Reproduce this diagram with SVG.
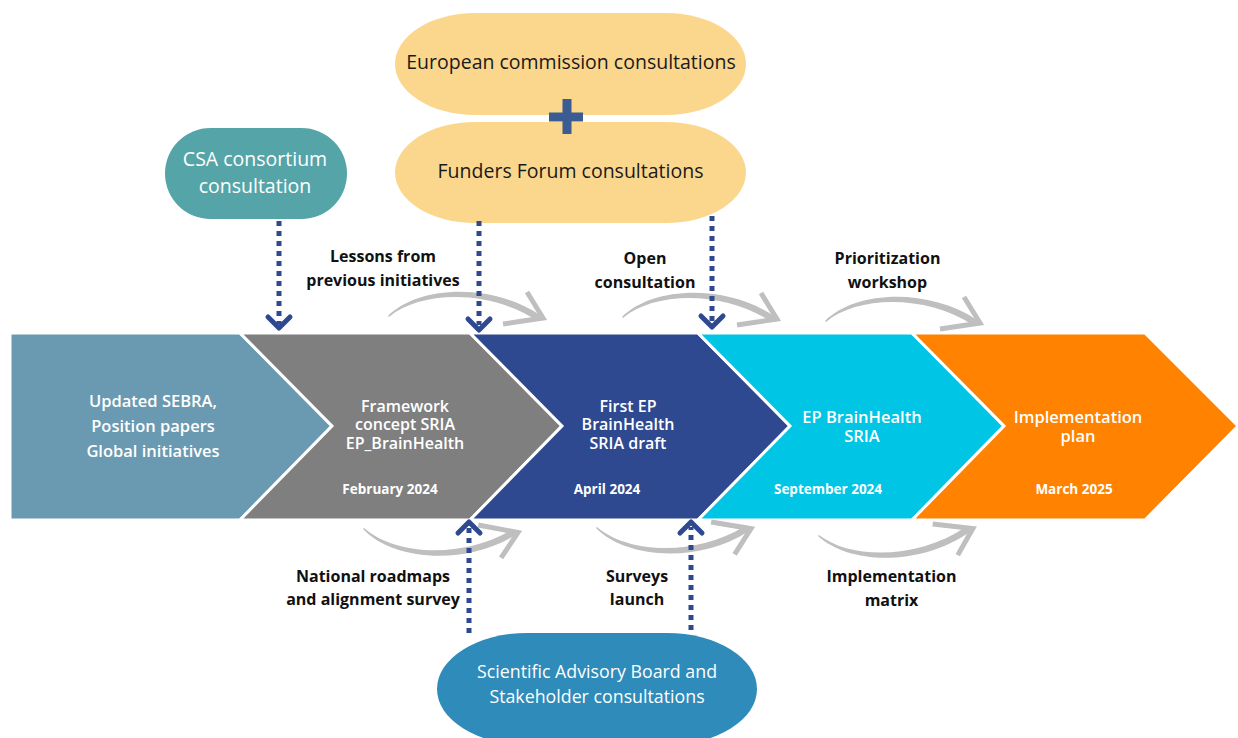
<svg xmlns="http://www.w3.org/2000/svg" xmlns:xlink="http://www.w3.org/1999/xlink" width="1238" height="738" viewBox="0 0 1238 738">
  <style>
    .stage { stroke: #FFFFFF; stroke-width: 3; stroke-linejoin: miter; }
    .stxt { font-family: "Open Sans", "Noto Sans", sans-serif; font-weight: 600; font-size: 16.5px; fill: #FFFFFF; text-anchor: middle; }
    .tight { font-size: 16px; }
    .date { font-family: "Open Sans", "Noto Sans", sans-serif; font-weight: 700; font-size: 13.5px; fill: #FFFFFF; text-anchor: middle; }
    .lbl { font-family: "Open Sans", "Noto Sans", sans-serif; font-weight: 700; font-size: 16px; fill: #111111; text-anchor: middle; }
    .btxt { font-family: "Open Sans", "Noto Sans", sans-serif; font-weight: 400; font-size: 19.5px; text-anchor: middle; }
    .small { font-size: 17.8px; }
    .dots { fill: none; stroke: #2E4990; stroke-width: 5; stroke-dasharray: 5 5; }
    .head { fill: none; stroke: #2E4990; stroke-width: 5; stroke-linecap: round; stroke-linejoin: round; }
  </style>
  <defs>
    <!-- tapered grey sweep arrow with open chevron tip -->
    <g id="sweep">
      <path d="M0,0 C30,-30 102,-34 152,-1 L148,4 C100,-27 32,-25 1,1 Z" fill="#BFBFBF"/>
      <polyline points="139,-24 155,2 115,8" fill="none" stroke="#BFBFBF" stroke-width="5"/>
    </g>
  </defs>

  <rect width="1238" height="738" fill="#FFFFFF"/>

  <!-- timeline chevrons -->
  <g id="stage-inputs">
    <polygon class="stage" fill="#6A9AB1" points="10,333 240,333 332,426 240,520 10,520"/>
    <text class="stxt" x="153" y="407">Updated SEBRA,</text>
    <text class="stxt" x="153" y="432">Position papers</text>
    <text class="stxt" x="153" y="457">Global initiatives</text>
  </g>
  <g id="stage-framework">
    <polygon class="stage" fill="#7F7F7F" points="240,333 470,333 562,426 470,520 240,520 332,426"/>
    <text class="stxt tight" x="405" y="411.5">Framework</text>
    <text class="stxt tight" x="405" y="430">concept SRIA</text>
    <text class="stxt tight" x="405" y="448.5">EP_BrainHealth</text>
    <text class="date" x="390" y="494">February 2024</text>
  </g>
  <g id="stage-draft">
    <polygon class="stage" fill="#2E4990" points="470,333 698,333 790,426 698,520 470,520 562,426"/>
    <text class="stxt tight" x="628" y="411.5">First EP</text>
    <text class="stxt tight" x="628" y="430">BrainHealth</text>
    <text class="stxt tight" x="628" y="448.5">SRIA draft</text>
    <text class="date" x="607" y="494">April 2024</text>
  </g>
  <g id="stage-sria">
    <polygon class="stage" fill="#00C5E5" points="698,333 912,333 1004,426 912,520 698,520 790,426"/>
    <text class="stxt" x="862" y="423">EP BrainHealth</text>
    <text class="stxt" x="862" y="441.5">SRIA</text>
    <text class="date" x="828" y="494">September 2024</text>
  </g>
  <g id="stage-plan">
    <polygon class="stage" fill="#FF8200" points="912,333 1145,333 1238,426 1145,520 912,520 1004,426"/>
    <text class="stxt" x="1078" y="423">Implementation</text>
    <text class="stxt" x="1078" y="441.5">plan</text>
    <text class="date" x="1074" y="494">March 2025</text>
  </g>

  <!-- consultation bubbles -->
  <g id="csa">
    <rect x="165" y="128" width="182" height="91" rx="45.5" ry="45.5" fill="#55A5A8"/>
    <text class="btxt" x="255" y="165.5" fill="#FFFFFF">CSA consortium</text>
    <text class="btxt" x="255" y="192.5" fill="#FFFFFF">consultation</text>
  </g>
  <g id="ec">
    <rect x="395" y="13" width="351" height="102" rx="80" ry="51" fill="#FBD78E"/>
    <text class="btxt" x="571" y="69" fill="#1A1A1A">European commission consultations</text>
  </g>
  <g id="funders">
    <rect x="395" y="122" width="351" height="101" rx="80" ry="50.5" fill="#FBD78E"/>
    <text class="btxt" x="570.5" y="178" fill="#1A1A1A">Funders Forum consultations</text>
  </g>
  <g id="plus">
    <rect x="549" y="112.5" width="34" height="9" fill="#3A5C92"/>
    <rect x="562.5" y="99" width="9" height="35" fill="#3A5C92"/>
  </g>
  <g id="sab">
    <rect x="437" y="633" width="320" height="112" rx="90" ry="56" fill="#2E8BBA"/>
    <text class="btxt small" x="597" y="678" fill="#FFFFFF">Scientific Advisory Board and</text>
    <text class="btxt small" x="597" y="702.5" fill="#FFFFFF">Stakeholder consultations</text>
  </g>

  <!-- activity labels -->
  <g id="labels">
    <text class="lbl" x="383" y="261.5">Lessons from</text>
    <text class="lbl" x="383" y="285.5">previous initiatives</text>
    <text class="lbl" x="645" y="264">Open</text>
    <text class="lbl" x="645" y="288">consultation</text>
    <text class="lbl" x="887.5" y="263.5">Prioritization</text>
    <text class="lbl" x="887.5" y="287.5">workshop</text>
    <text class="lbl" x="373" y="581.5">National roadmaps</text>
    <text class="lbl" x="373" y="605">and alignment survey</text>
    <text class="lbl" x="637" y="581.5">Surveys</text>
    <text class="lbl" x="637" y="605">launch</text>
    <text class="lbl" x="891.5" y="582">Implementation</text>
    <text class="lbl" x="891.5" y="605.5">matrix</text>
  </g>

  <!-- connectors -->
  <g id="connectors">
    <use xlink:href="#sweep" href="#sweep" transform="translate(388,316)"/>
    <use xlink:href="#sweep" href="#sweep" transform="translate(622,317)"/>
    <use xlink:href="#sweep" href="#sweep" transform="translate(825,321)"/>
    <use xlink:href="#sweep" href="#sweep" transform="translate(363,529) rotate(2) scale(1,-1)"/>
    <use xlink:href="#sweep" href="#sweep" transform="translate(596,528) rotate(1) scale(1,-1)"/>
    <use xlink:href="#sweep" href="#sweep" transform="translate(818,536) rotate(-2) scale(1,-1)"/>

    <line class="dots" x1="279" y1="221" x2="279" y2="324"/>
    <polyline class="head" points="268,317 279,328 290,317"/>
    <line class="dots" x1="479" y1="221" x2="479" y2="325"/>
    <polyline class="head" points="468,319 479,330 490,319"/>
    <line class="dots" x1="712" y1="216" x2="712" y2="323"/>
    <polyline class="head" points="701,316 712,327 723,316"/>
    <line class="dots" x1="469" y1="633" x2="469" y2="527"/>
    <polyline class="head" points="458,533 469,522 480,533"/>
    <line class="dots" x1="691" y1="630" x2="691" y2="527"/>
    <polyline class="head" points="680,533 691,522 702,533"/>
  </g>
</svg>
